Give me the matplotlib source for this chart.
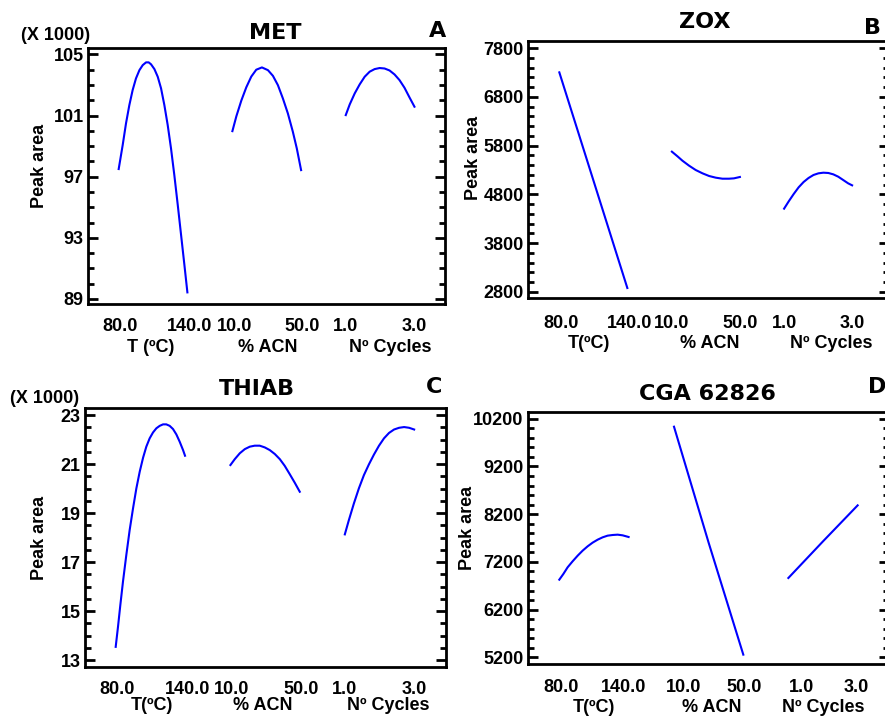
import numpy as np
import matplotlib
matplotlib.use('Agg')
import matplotlib.pyplot as plt
from matplotlib.transforms import blended_transform_factory

W, H = 885, 716

# factor ranges (low, high) for the three main effects
factor_ranges = [(80.0, 140.0), (10.0, 50.0), (1.0, 3.0)]
factor_offsets = [0.0, 1.655, 3.305]

# ---- A: MET (x 1000)
met_temp = [80, 83.5, 86.4, 89.3, 92.2, 95.1, 98.1, 101, 103.9, 106.2, 108.3, 111.2, 114.1,
            117, 119.9, 122.8, 125.7, 128.6, 131.6, 134.5, 137.4, 140]
met_temp_area = [97.50, 99.07, 100.49, 101.68, 102.67, 103.43, 103.97, 104.30, 104.48, 104.48, 104.35,
                 104.04, 103.54, 102.78, 101.68, 100.38, 98.85, 97.10, 95.14, 93.18, 91.22, 89.43]
met_acn = [10, 12.3, 15.2, 18.1, 21.0, 23.9, 27.2, 30.7, 33.6, 36.5, 39.4, 42.3, 45.2, 47.5, 50]
met_acn_area = [99.98, 100.95, 101.98, 102.85, 103.55, 104.00, 104.15, 103.97, 103.60, 102.99,
                102.12, 101.14, 99.94, 98.85, 97.43]
met_cyc = [1, 1.116, 1.261, 1.406, 1.551, 1.696, 1.841, 1.986, 2.130, 2.275, 2.420, 2.565, 2.710, 2.855, 3]
met_cyc_area = [101.03, 101.73, 102.45, 103.04, 103.54, 103.87, 104.04, 104.11, 104.08, 103.95,
                103.69, 103.32, 102.82, 102.19, 101.58]
met_yticks = [89, 93, 97, 101, 105]

# ---- B: ZOX
zox_temp = [80, 140]
zox_temp_area = [7301, 2882]
zox_acn = [10, 13.3, 16.2, 20.1, 24.0, 28.0, 31.9, 35.8, 39.7, 43.6, 46.5, 50]
zox_acn_area = [5676, 5580, 5491, 5389, 5300, 5232, 5177, 5143, 5122, 5122, 5129, 5157]
zox_cyc = [1, 1.136, 1.282, 1.427, 1.573, 1.718, 1.864, 2.010, 2.155, 2.301, 2.447, 2.592, 2.738, 2.883, 3]
zox_cyc_area = [4508, 4658, 4808, 4945, 5054, 5136, 5198, 5232, 5245, 5239, 5211, 5163, 5095, 5027, 4986]
zox_yticks = [2800, 3800, 4800, 5800, 6800, 7800]

# ---- C: THIAB (x 1000)
thiab_temp = [80, 82.0, 84.0, 86.3, 89.2, 92.1, 95.0, 97.9, 100.8, 103.7, 106.5, 109.4, 112.3,
              115.2, 118.1, 121.0, 123.8, 126.7, 129.6, 132.5, 135.4, 138.3, 140]
thiab_temp_area = [13.54, 14.36, 15.24, 16.20, 17.29, 18.31, 19.19, 20.01, 20.69, 21.26, 21.71, 22.05,
                   22.29, 22.46, 22.56, 22.62, 22.62, 22.56, 22.43, 22.21, 21.91, 21.57, 21.34]
thiab_acn = [10, 12.5, 15.4, 18.3, 21.2, 24.0, 26.9, 29.8, 32.7, 35.6, 38.5, 41.3, 44.2, 47.1, 50]
thiab_acn_area = [20.96, 21.20, 21.44, 21.61, 21.71, 21.75, 21.75, 21.68, 21.57, 21.41, 21.20,
                  20.93, 20.59, 20.24, 19.87]
thiab_cyc = [1, 1.116, 1.261, 1.406, 1.551, 1.696, 1.841, 1.986, 2.130, 2.275, 2.420, 2.565, 2.710, 2.855, 3]
thiab_cyc_area = [18.13, 18.71, 19.39, 20.01, 20.55, 20.99, 21.39, 21.75, 22.05, 22.27, 22.41, 22.48,
                  22.51, 22.48, 22.41]
thiab_yticks = [13, 15, 17, 19, 21, 23]

# ---- D: CGA 62826
cga_temp = [80, 83.5, 87.2, 91.5, 95.9, 100.2, 104.5, 108.8, 113.2, 117.5, 121.8, 126.2, 130.5, 134.8, 140]
cga_temp_area = [6827, 6946, 7086, 7211, 7330, 7435, 7525, 7602, 7665, 7714, 7749, 7763, 7770, 7756, 7721]
cga_acn = [10, 30, 50]
cga_acn_area = [10032, 7600, 5256]
cga_cyc = [1, 2, 3]
cga_cyc_area = [6862, 7630, 8384]
cga_yticks = [5200, 6200, 7200, 8200, 9200, 10200]

panels = [
    dict(title='MET', letter='A', box=(87.7, 47.7, 445.3, 304.3), xlim=(-0.451, 4.754),
         ylim=(88.65, 105.44), yticks=met_yticks, minor=1,
         series=[(met_temp, met_temp_area), (met_acn, met_acn_area), (met_cyc, met_cyc_area)],
         names=['T (ºC)', '% ACN', 'Nº Cycles'], name_shift=[-0.03, 0.015, 0.15],
         tick_shift=[0.02, 0.025, 0.03, 0.015, 0, 0], tick_pad=9.8, name_y=347,
         title_xy=(275, 33), letter_xy=(438, 31), ylabel_xy=(39, 166), scale_xy=(55.7, 36)),
    dict(title='ZOX', letter='B', box=(527.7, 40.7, 888.5, 298.0), xlim=(-0.465, 4.84),
         ylim=(2677, 7950), yticks=zox_yticks, minor=200,
         series=[(zox_temp, zox_temp_area), (zox_acn, zox_acn_area), (zox_cyc, zox_cyc_area)],
         names=['T(ºC)', '% ACN', 'Nº Cycles'], name_shift=[-0.06, 0.06, 0.2],
         tick_shift=[0.02, 0.03, 0.0, 0.0, 0, 0], tick_pad=12.2, name_y=343,
         title_xy=(705, 22), letter_xy=(873, 28), ylabel_xy=(473, 158), scale_xy=None),
    dict(title='THIAB', letter='C', box=(84.7, 407.7, 445.7, 666.7), xlim=(-0.447, 4.76),
         ylim=(12.73, 23.3), yticks=thiab_yticks, minor=0.5,
         series=[(thiab_temp, thiab_temp_area), (thiab_acn, thiab_acn_area), (thiab_cyc, thiab_cyc_area)],
         names=['T(ºC)', '% ACN', 'Nº Cycles'], name_shift=[0.03, -0.03, 0.12],
         tick_shift=[0.02, 0.03, 0.02, 0.02, 0, 0], tick_pad=10.0, name_y=706,
         title_xy=(257, 389), letter_xy=(434, 387), ylabel_xy=(39, 538), scale_xy=(45, 398)),
    dict(title='CGA 62826', letter='D', box=(527.7, 412.0, 888.5, 664.0), xlim=(-0.456, 4.75),
         ylim=(5060, 10340), yticks=cga_yticks, minor=200,
         series=[(cga_temp, cga_temp_area), (cga_acn, cga_acn_area), (cga_cyc, cga_cyc_area)],
         names=['T(ºC)', '% ACN', 'Nº Cycles'], name_shift=[0.0, 0.05, 0.0],
         tick_shift=[0.025, -0.08, 0.144, 0.015, 0.19, -0.015], tick_pad=10.8, name_y=708,
         title_xy=(707, 394), letter_xy=(877, 387), ylabel_xy=(468, 528), scale_xy=None),
]

plt.rcParams['font.family'] = ['Liberation Sans', 'DejaVu Sans']
plt.rcParams['font.weight'] = 'bold'
plt.rcParams['font.size'] = 13

fig = plt.figure(figsize=(W / 100, H / 100), dpi=100)


def fpos(x, y):
    return x / W, 1 - y / H


for p in panels:
    l, t, r, b = p['box']
    ax = fig.add_axes([l / W, 1 - b / H, (r - l) / W, (b - t) / H])

    # main effect curves
    for k, (xv, yv) in enumerate(p['series']):
        lo, hi = factor_ranges[k]
        pos = factor_offsets[k] + (np.asarray(xv, float) - lo) / (hi - lo)
        ax.plot(pos, yv, color='#0000ff', lw=1.5)

    ax.set_xlim(p['xlim'])
    ax.set_ylim(p['ylim'])

    # y axis ticks, in on both sides
    yt = p['yticks']
    ax.set_yticks(yt, labels=[str(v) for v in yt])
    ax.set_yticks(np.arange(yt[0], yt[-1] + p['minor'] / 2, p['minor']), minor=True)
    ax.tick_params(axis='y', which='both', direction='in', left=True, right=True, width=2, pad=3)
    ax.tick_params(axis='y', which='major', length=7)
    ax.tick_params(axis='y', which='minor', length=4)

    # x tick labels at low / high of each factor
    xt, xl = [], []
    for k, (lo, hi) in enumerate(factor_ranges):
        xt += [factor_offsets[k] + p['tick_shift'][2 * k], factor_offsets[k] + 1 + p['tick_shift'][2 * k + 1]]
        xl += [f'{lo:.1f}', f'{hi:.1f}']
    ax.set_xticks(xt, labels=xl)
    ax.tick_params(axis='x', length=0, pad=p['tick_pad'])

    for s in ax.spines.values():
        s.set_linewidth(2)

    tr = blended_transform_factory(ax.transData, fig.transFigure)
    for k, name in enumerate(p['names']):
        ax.text(factor_offsets[k] + 0.5 + p['name_shift'][k], 1 - p['name_y'] / H, name,
                transform=tr, ha='center', va='center')

    fig.text(*fpos(*p['title_xy']), p['title'], family='DejaVu Sans', fontsize=16,
             fontweight='bold', ha='center', va='center')
    fig.text(*fpos(*p['letter_xy']), p['letter'], family='DejaVu Sans', fontsize=16,
             fontweight='bold', ha='center', va='center')
    fig.text(*fpos(*p['ylabel_xy']), 'Peak area', rotation=90, ha='center', va='center')
    if p['scale_xy'] is not None:
        fig.text(*fpos(*p['scale_xy']), '(X 1000)', ha='center', va='center')

fig.savefig('out.png', dpi=100)
